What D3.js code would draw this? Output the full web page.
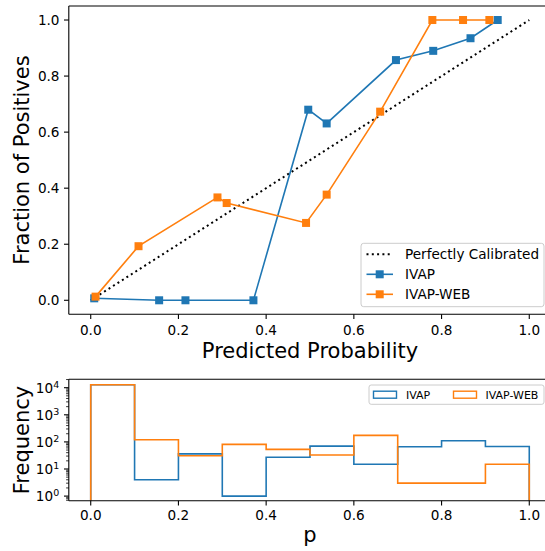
<!DOCTYPE html>
<html>
<head>
<meta charset="utf-8">
<script src="https://cdn.jsdelivr.net/npm/d3@7"></script>
<style>
  html, body { margin: 0; padding: 0; background: #fff; }
  svg { display: block; }
  text { font-family: "DejaVu Sans", sans-serif; fill: #000; }
</style>
</head>
<body>
<svg id="chart" width="545" height="551"></svg>
<script>
// ---- Data ----
const ticksX = [0.0, 0.2, 0.4, 0.6, 0.8, 1.0];
const ticksYTop = [0.0, 0.2, 0.4, 0.6, 0.8, 1.0];
const ticksYHistExp = [0, 1, 2, 3, 4];

const ivapX = [0.008, 0.156, 0.216, 0.371, 0.496, 0.538, 0.696, 0.781, 0.866, 0.928];
const ivapY = [0.007, 0.0, 0.0, 0.0, 0.680, 0.631, 0.857, 0.890, 0.935, 1.0];
const webX  = [0.011, 0.109, 0.289, 0.310, 0.491, 0.538, 0.660, 0.779, 0.849, 0.909];
const webY  = [0.013, 0.193, 0.367, 0.347, 0.276, 0.377, 0.673, 1.0, 1.0, 1.0];

const binEdges = [0.0, 0.1, 0.2, 0.3, 0.4, 0.5, 0.6, 0.7, 0.8, 0.9, 1.0];
const ivapCounts = [12800, 4, 36, 1, 27, 70, 15, 66, 110, 68];
const webCounts  = [12900, 120, 31, 81, 53, 33, 174, 3, 3, 15];

const seriesNames = ["Perfectly Calibrated", "IVAP", "IVAP-WEB"];
const blue = "#1f77b4", orange = "#ff7f0e";

const svg = d3.select("#chart");

// ---- Scales ----
const axL = 68.8, axR = 551.2;
const x = d3.scaleLinear().domain([-0.05, 1.05]).range([axL, axR]);
const yTop = d3.scaleLinear().domain([-0.05, 1.05]).range([314.3, 6]);
const yHist = d3.scaleLog().domain([Math.pow(10, -0.17), Math.pow(10, 4.31)]).range([500.7, 379.3]);

const tickFont = 13.6;

// ---- Top plot ----
const topG = svg.append("g");
topG.append("line")
  .attr("x1", x(0)).attr("y1", yTop(0)).attr("x2", x(1)).attr("y2", yTop(1))
  .attr("stroke", "#000").attr("stroke-width", 2).attr("stroke-dasharray", "2,3.3");

function drawSeries(g, xs, ys, color) {
  const pts = xs.map((v, i) => [x(v), yTop(ys[i])]);
  g.append("path").attr("d", d3.line()(pts)).attr("fill", "none")
    .attr("stroke", color).attr("stroke-width", 1.6);
  g.selectAll(null).data(pts).enter().append("rect")
    .attr("x", d => d[0] - 4).attr("y", d => d[1] - 4)
    .attr("width", 8).attr("height", 8).attr("fill", color);
}
drawSeries(topG, ivapX, ivapY, blue);
drawSeries(topG, webX, webY, orange);

// spines
topG.append("line").attr("x1", axL).attr("x2", axR).attr("y1", 6).attr("y2", 6).attr("stroke", "#000").attr("stroke-width", 1.1);
topG.append("line").attr("x1", axL).attr("x2", axR).attr("y1", 314.3).attr("y2", 314.3).attr("stroke", "#000").attr("stroke-width", 1.1);
topG.append("line").attr("x1", axL).attr("x2", axL).attr("y1", 6).attr("y2", 314.3).attr("stroke", "#000").attr("stroke-width", 1.1);

ticksX.forEach(t => {
  topG.append("line").attr("x1", x(t)).attr("x2", x(t)).attr("y1", 314.3).attr("y2", 319.1).attr("stroke", "#000").attr("stroke-width", 1.1);
  topG.append("text").attr("x", x(t)).attr("y", 334.8).attr("text-anchor", "middle")
    .attr("font-size", tickFont).text(t.toFixed(1));
});
ticksYTop.forEach(t => {
  topG.append("line").attr("x1", axL - 4.8).attr("x2", axL).attr("y1", yTop(t)).attr("y2", yTop(t)).attr("stroke", "#000").attr("stroke-width", 1.1);
  topG.append("text").attr("x", 59.5).attr("y", yTop(t) + 4.9).attr("text-anchor", "end")
    .attr("font-size", tickFont).text(t.toFixed(1));
});
topG.append("text").attr("x", 310).attr("y", 357.5).attr("text-anchor", "middle")
  .attr("font-size", 21).text("Predicted Probability");
topG.append("text").attr("transform", "translate(29,160) rotate(-90)").attr("text-anchor", "middle")
  .attr("font-size", 21).text("Fraction of Positives");

// legend top
const lg = topG.append("g");
lg.append("rect").attr("x", 361).attr("y", 243.3).attr("width", 183).attr("height", 63.4)
  .attr("rx", 2.7).attr("fill", "#fff").attr("fill-opacity", 0.8).attr("stroke", "#cccccc").attr("stroke-width", 1);
const legYs = [254.3, 274.3, 294.3];
lg.append("line").attr("x1", 366.5).attr("x2", 393).attr("y1", legYs[0]).attr("y2", legYs[0])
  .attr("stroke", "#000").attr("stroke-width", 2).attr("stroke-dasharray", "2,3.3");
[[blue, legYs[1]], [orange, legYs[2]]].forEach(([c, yy]) => {
  lg.append("line").attr("x1", 366.5).attr("x2", 393).attr("y1", yy).attr("y2", yy).attr("stroke", c).attr("stroke-width", 1.6);
  lg.append("rect").attr("x", 379.7 - 4).attr("y", yy - 4).attr("width", 8).attr("height", 8).attr("fill", c);
});
seriesNames.forEach((n, i) => {
  lg.append("text").attr("x", 405).attr("y", legYs[i] + 4.9).attr("font-size", tickFont).text(n);
});

// ---- Histogram ----
const hist = svg.append("g");
svg.append("defs").append("clipPath").attr("id", "hclip").append("rect")
  .attr("x", axL).attr("y", 379.3).attr("width", axR - axL).attr("height", 500.7 - 379.3);

function stepPath(counts) {
  const pts = [[x(binEdges[0]), 500.7]];
  counts.forEach((c, i) => {
    pts.push([x(binEdges[i]), yHist(c)]);
    pts.push([x(binEdges[i + 1]), yHist(c)]);
  });
  pts.push([x(binEdges[binEdges.length - 1]), 500.7]);
  return d3.line()(pts);
}
const hc = hist.append("g").attr("clip-path", "url(#hclip)");
hc.append("path").attr("d", stepPath(ivapCounts)).attr("fill", "none").attr("stroke", blue).attr("stroke-width", 1.6);
hc.append("path").attr("d", stepPath(webCounts)).attr("fill", "none").attr("stroke", orange).attr("stroke-width", 1.6);

hist.append("line").attr("x1", axL).attr("x2", axR).attr("y1", 379.3).attr("y2", 379.3).attr("stroke", "#000").attr("stroke-width", 1.1);
hist.append("line").attr("x1", axL).attr("x2", axR).attr("y1", 500.7).attr("y2", 500.7).attr("stroke", "#000").attr("stroke-width", 1.1);
hist.append("line").attr("x1", axL).attr("x2", axL).attr("y1", 379.3).attr("y2", 500.7).attr("stroke", "#000").attr("stroke-width", 1.1);

ticksX.forEach(t => {
  hist.append("line").attr("x1", x(t)).attr("x2", x(t)).attr("y1", 500.7).attr("y2", 505.5).attr("stroke", "#000").attr("stroke-width", 1.1);
  hist.append("text").attr("x", x(t)).attr("y", 519.8).attr("text-anchor", "middle")
    .attr("font-size", tickFont).text(t.toFixed(1));
});
const [dLo, dHi] = yHist.domain();
for (let k = -1; k <= 4; k++) {
  for (let m = 2; m <= 9; m++) {
    const v = m * Math.pow(10, k);
    if (v >= dLo && v <= dHi) {
      hist.append("line").attr("x1", axL - 2.7).attr("x2", axL).attr("y1", yHist(v)).attr("y2", yHist(v))
        .attr("stroke", "#000").attr("stroke-width", 0.8);
    }
  }
}
ticksYHistExp.forEach(e => {
  const yy = yHist(Math.pow(10, e));
  hist.append("line").attr("x1", axL - 4.8).attr("x2", axL).attr("y1", yy).attr("y2", yy).attr("stroke", "#000").attr("stroke-width", 1.1);
  const t = hist.append("text").attr("x", 59.2).attr("y", yy + 5).attr("text-anchor", "end").attr("font-size", tickFont);
  t.append("tspan").text("10");
  t.append("tspan").attr("font-size", 9.5).attr("dy", -5.2).text(String(e));
});
hist.append("text").attr("x", 310).attr("y", 542).attr("text-anchor", "middle")
  .attr("font-size", 21).text("p");
hist.append("text").attr("transform", "translate(29,440) rotate(-90)").attr("text-anchor", "middle")
  .attr("font-size", 21).text("Frequency");

const hl = hist.append("g");
hl.append("rect").attr("x", 369).attr("y", 385).attr("width", 175).attr("height", 19.3)
  .attr("rx", 2.2).attr("fill", "#fff").attr("fill-opacity", 0.8).attr("stroke", "#cccccc").attr("stroke-width", 1);
const histLeg = [[blue, 373.5, 406, seriesNames[1]], [orange, 453.5, 485.5, seriesNames[2]]];
histLeg.forEach(([c, px, tx, name]) => {
  hl.append("rect").attr("x", px).attr("y", 391.2).attr("width", 23).attr("height", 7)
    .attr("fill", "none").attr("stroke", c).attr("stroke-width", 1.4);
  hl.append("text").attr("x", tx).attr("y", 398.6).attr("font-size", 11).text(name);
});
</script>
</body>
</html>
